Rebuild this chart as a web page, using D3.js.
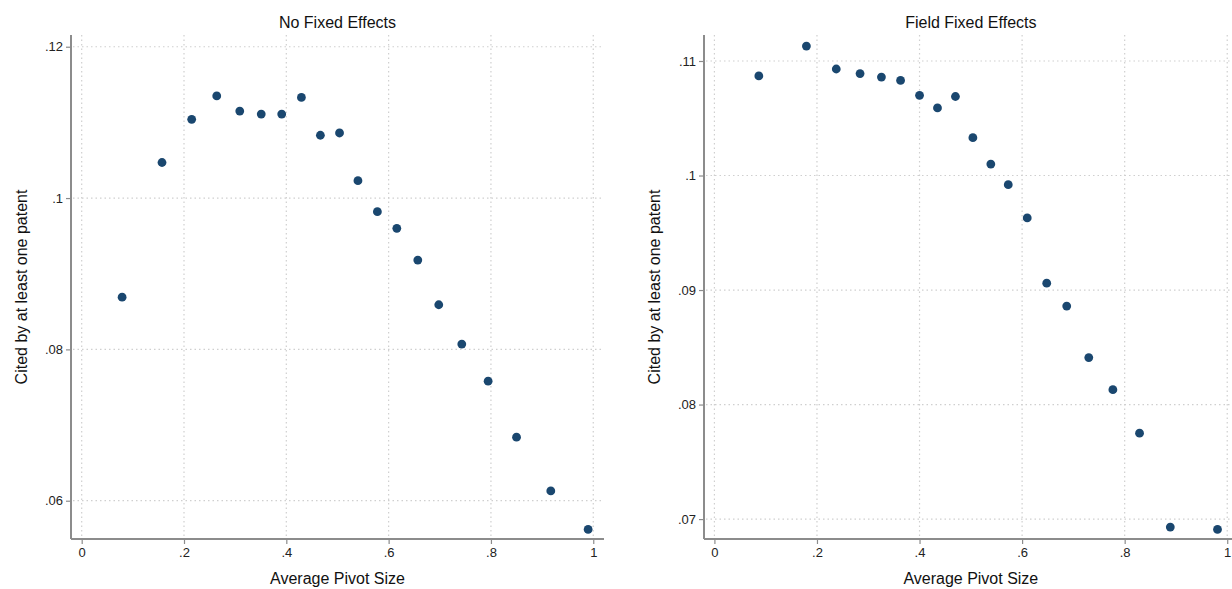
<!DOCTYPE html>
<html>
<head>
<meta charset="utf-8">
<script src="https://cdn.jsdelivr.net/npm/d3@7"></script>
<style>
  html, body { margin: 0; padding: 0; background: #fff; }
  svg { display: block; font-family: "Liberation Sans", Arial, Helvetica, sans-serif; }
</style>
</head>
<body>
<svg id="chart" width="1232" height="589"></svg>
<script>
// ---- Data ----
const titles = ["No Fixed Effects", "Field Fixed Effects"];
const xTitle = "Average Pivot Size";
const yTitle = "Cited by at least one patent";

const noFE_x = [0.079, 0.157, 0.215, 0.264, 0.309, 0.351, 0.391, 0.4295, 0.4666, 0.504,
                0.540, 0.578, 0.616, 0.657, 0.698, 0.743, 0.7945, 0.850, 0.917, 0.990];
const noFE_y = [0.0869, 0.1047, 0.1104, 0.1135, 0.1115, 0.1111, 0.1111, 0.1133, 0.1083, 0.1086,
                0.1023, 0.0982, 0.0960, 0.0918, 0.0859, 0.0807, 0.0758, 0.0684, 0.0613, 0.0562];

const fieldFE_x = [0.0866, 0.1794, 0.2376, 0.2840, 0.3257, 0.363, 0.400, 0.435, 0.470, 0.504,
                   0.539, 0.573, 0.610, 0.648, 0.687, 0.730, 0.777, 0.829, 0.889, 0.981];
const fieldFE_y = [0.1087, 0.1113, 0.1093, 0.1089, 0.1086, 0.1083, 0.1070, 0.1059, 0.1069, 0.1033,
                   0.1010, 0.0992, 0.0963, 0.0906, 0.0886, 0.0841, 0.0813, 0.0775, 0.0693, 0.0691];

const xTicks = [0, 0.2, 0.4, 0.6, 0.8, 1];
const yTicksLeft = [0.06, 0.08, 0.10, 0.12];
const yTicksRight = [0.07, 0.08, 0.09, 0.10, 0.11];

// ---- Layout ----
const panels = [
  { title: titles[0], xs: noFE_x, ys: noFE_y, yTicks: yTicksLeft,
    xDomain: [-0.0209, 1.021], yDomain: [0.05494, 0.12155],
    left: 71, right: 604, top: 35, bottom: 539, yTitleX: 21 },
  { title: titles[1], xs: fieldFE_x, ys: fieldFE_y, yTicks: yTicksRight,
    xDomain: [-0.0203, 1.021], yDomain: [0.06826, 0.11227],
    left: 704, right: 1238, top: 35, bottom: 539, yTitleX: 654 }
];

const fmt = v => {
  if (v === 0) return "0";
  if (v === 1) return "1";
  let s = d3.format("")(+v.toFixed(4));
  return s.replace(/^0\./, ".");
};

const svg = d3.select("#chart");
const axisColor = "#8c8c8c";
const gridColor = "#cfcfcf";
const dotColor = "#1a476f";

panels.forEach(p => {
  const x = d3.scaleLinear().domain(p.xDomain).range([p.left, p.right]);
  const y = d3.scaleLinear().domain(p.yDomain).range([p.bottom, p.top]);
  const g = svg.append("g");

  // grid
  g.append("g").selectAll("line.h").data(p.yTicks).join("line")
    .attr("x1", p.left + 2).attr("x2", p.right)
    .attr("y1", d => y(d)).attr("y2", d => y(d))
    .attr("stroke", gridColor).attr("stroke-width", 1.2)
    .attr("stroke-dasharray", "1.5,3");
  g.append("g").selectAll("line.v").data(xTicks).join("line")
    .attr("x1", d => x(d)).attr("x2", d => x(d))
    .attr("y1", p.top).attr("y2", p.bottom - 2)
    .attr("stroke", gridColor).attr("stroke-width", 1.2)
    .attr("stroke-dasharray", "1.5,3");

  // axes
  const xAxis = d3.axisBottom(x).tickValues(xTicks).tickFormat(fmt).tickSize(5).tickPadding(4);
  const yAxis = d3.axisLeft(y).tickValues(p.yTicks).tickFormat(fmt).tickSize(5).tickPadding(3);

  const gx = g.append("g").attr("transform", `translate(0,${p.bottom})`).call(xAxis);
  const gy = g.append("g").attr("transform", `translate(${p.left},0)`).call(yAxis);
  [gx, gy].forEach(a => {
    a.select(".domain").attr("stroke", axisColor).attr("stroke-width", 2);
    a.selectAll(".tick line").attr("stroke", axisColor).attr("stroke-width", 1.2);
    a.selectAll(".tick text").attr("fill", "#222").style("font-size", "13px")
      .style("font-family", "Liberation Sans, Arial, sans-serif");
  });
  gx.select(".domain").attr("d", `M${p.left},0H${p.right}`);
  gy.select(".domain").attr("d", `M0,${p.top}V${p.bottom}`);

  // points
  g.append("g").selectAll("circle").data(p.xs.map((v, i) => [v, p.ys[i]])).join("circle")
    .attr("cx", d => x(d[0])).attr("cy", d => y(d[1])).attr("r", 4.4)
    .attr("fill", dotColor);

  // titles
  const cx = (x(0) + x(1)) / 2;
  g.append("text").attr("x", cx).attr("y", 28).attr("text-anchor", "middle")
    .style("font-size", "16px").attr("fill", "#111").text(p.title);
  g.append("text").attr("x", cx).attr("y", 584).attr("text-anchor", "middle")
    .style("font-size", "16px").attr("fill", "#111").text(xTitle);
  const cy = (p.top + p.bottom) / 2;
  g.append("text").attr("transform", `translate(${p.yTitleX + 6},${cy}) rotate(-90)`)
    .attr("text-anchor", "middle")
    .style("font-size", "16px").attr("fill", "#111").text(yTitle);
});
</script>
</body>
</html>
